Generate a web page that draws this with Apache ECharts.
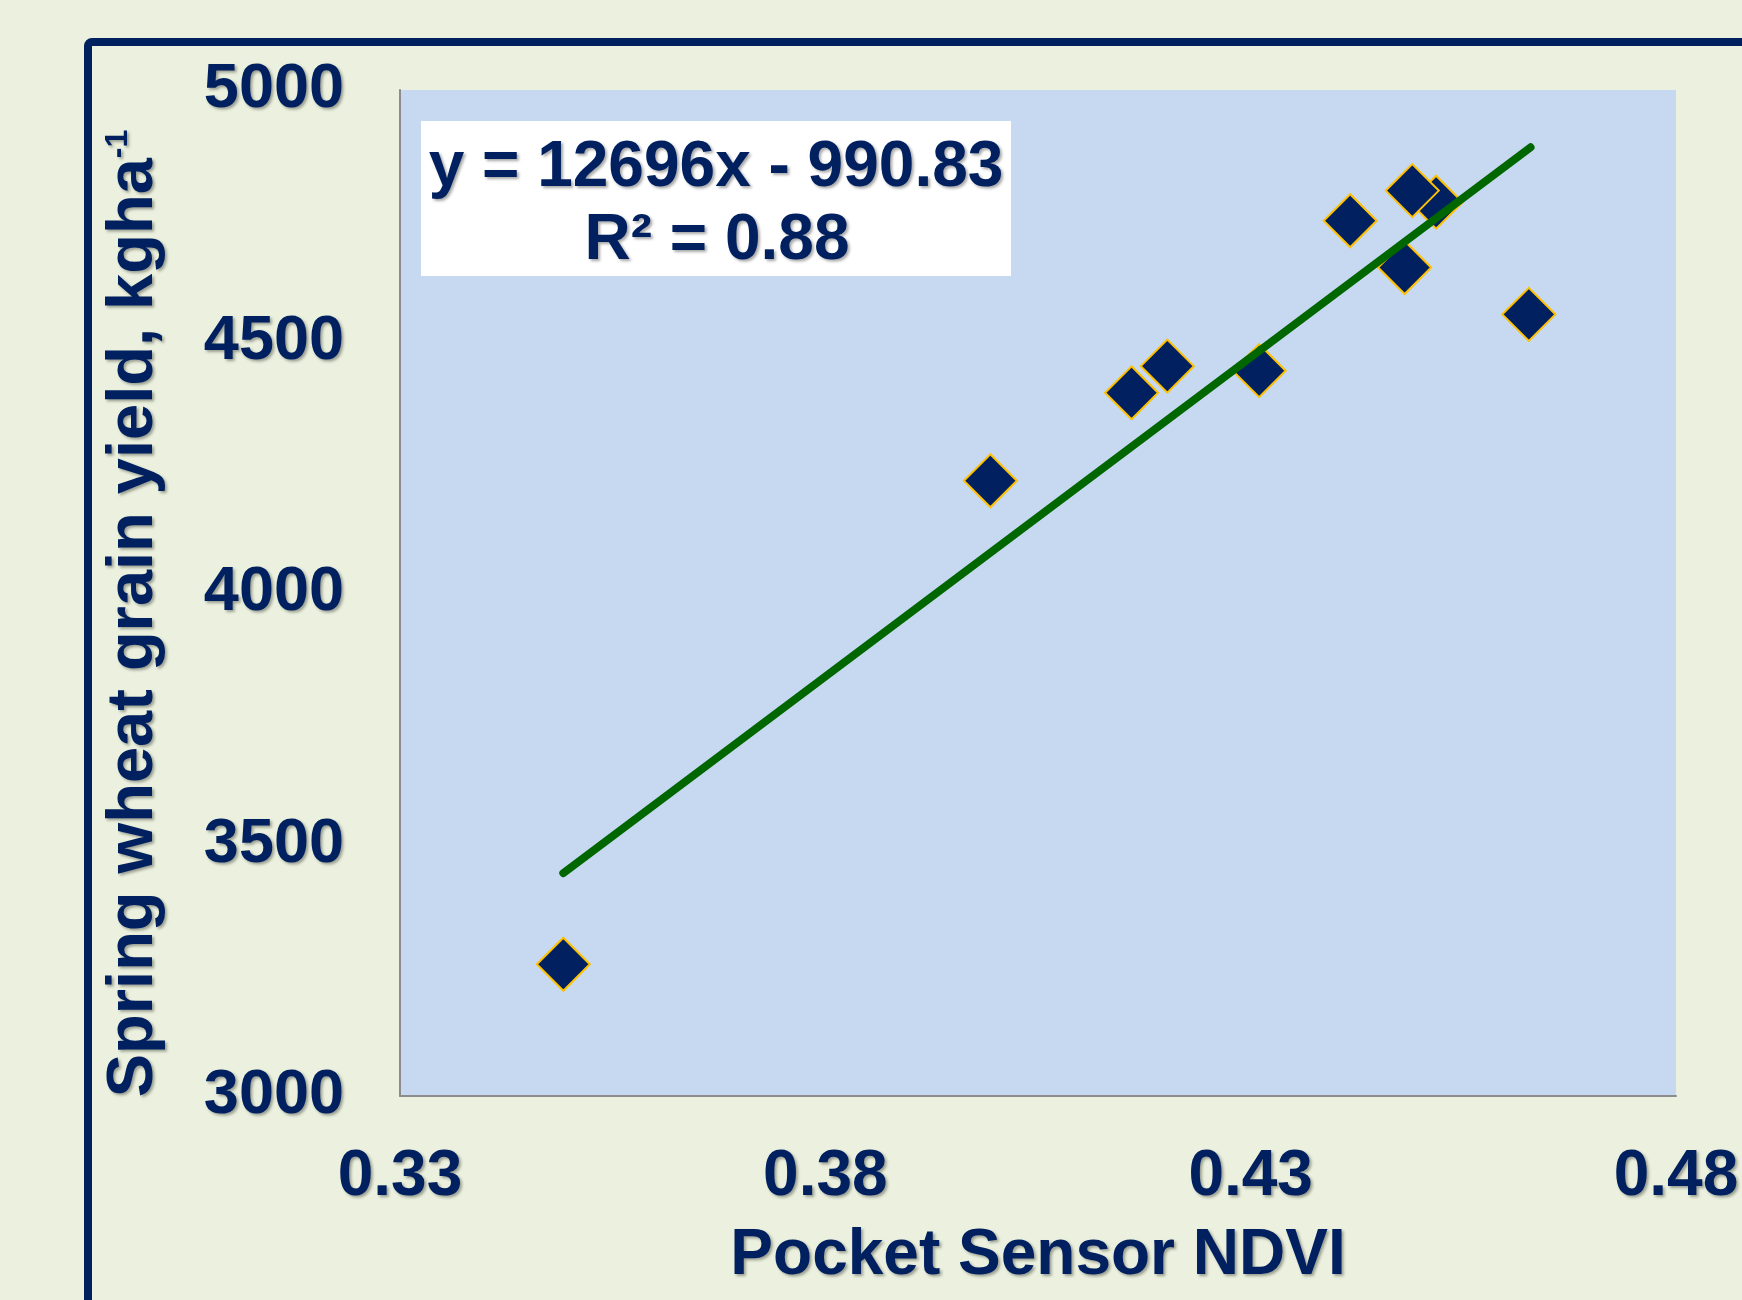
<!DOCTYPE html>
<html>
<head>
<meta charset="utf-8">
<script src="https://cdn.jsdelivr.net/npm/echarts@6/dist/echarts.min.js"></script>
<style>
html,body{margin:0;padding:0;background:#EBF1DE;}
#chart{width:1742px;height:1300px;}
</style>
</head>
<body>
<div id="chart"></div>
<script>
// ---- data ----
var ndvi  = [0.3492, 0.3994, 0.4160, 0.4202, 0.4310, 0.4417, 0.4518, 0.4490, 0.4481, 0.4627];
var yieldKg = [3262, 4223, 4398, 4451, 4442, 4740, 4777, 4800, 4647, 4554];
var trendX = [0.3492, 0.4629];
var trendY = [3443, 4886];
var xTicks = [0.33, 0.38, 0.43, 0.48];
var yTicks = [3000, 3500, 4000, 4500, 5000];
var equationText = 'y = 12696x - 990.83';
var r2Text = 'R² = 0.88';

var NAVY = '#002060';
var FONT = '"Liberation Sans", Arial, sans-serif';
var shadow = {textShadowColor: 'rgba(0,0,0,0.35)', textShadowBlur: 3, textShadowOffsetX: 2, textShadowOffsetY: 2};

var points = ndvi.map(function (x, i) { return [x, yieldKg[i]]; });
var trend = trendX.map(function (x, i) { return [x, trendY[i]]; });

var chart = echarts.init(document.getElementById('chart'), null, {renderer: 'canvas'});
chart.setOption({
  backgroundColor: '#EBF1DE',
  animation: false,
  grid: {left: 400, top: 90, right: 66, bottom: 204, show: true, backgroundColor: '#C6D9F1', borderWidth: 0},
  xAxis: {
    type: 'value', min: xTicks[0], max: xTicks[xTicks.length - 1],
    name: 'Pocket Sensor NDVI', nameLocation: 'middle', nameGap: 128,
    nameTextStyle: Object.assign({color: NAVY, fontSize: 64, fontWeight: 'bold', fontFamily: FONT}, shadow),
    axisLine: {show: true, lineStyle: {color: '#8c8c8c', width: 2}},
    axisTick: {show: false},
    splitLine: {show: false},
    axisLabel: Object.assign({customValues: xTicks, color: NAVY, fontSize: 64, fontWeight: 'bold', fontFamily: FONT, margin: 49,
      formatter: function (v) { return v.toFixed(2); }}, shadow)
  },
  yAxis: {
    type: 'value', min: yTicks[0], max: yTicks[yTicks.length - 1], interval: 500,
    name: '{a|Spring wheat grain yield, kgha}{b|-1}', nameLocation: 'middle', nameGap: 230,
    nameTextStyle: {
      padding: [0, 41, 0, 0],
      rich: {
        a: Object.assign({color: NAVY, fontSize: 65, fontWeight: 'bold', fontFamily: FONT, lineHeight: 72}, shadow),
        b: Object.assign({color: NAVY, fontSize: 32, fontWeight: 'bold', fontFamily: FONT, verticalAlign: 'top', lineHeight: 34, padding: [4, 0, 0, 0]}, shadow)
      }
    },
    axisLine: {show: true, lineStyle: {color: '#8c8c8c', width: 2}},
    axisTick: {show: false},
    splitLine: {show: false},
    axisLabel: Object.assign({customValues: yTicks, color: NAVY, fontSize: 63, fontWeight: 'bold', fontFamily: FONT, margin: 56,
      padding: [5, 0, 0, 0],
      formatter: function (v) { return String(v); }}, shadow)
  },
  series: [
    {
      type: 'scatter', data: points, symbol: 'diamond', symbolSize: 53,
      itemStyle: {color: NAVY, borderColor: '#FFC000', borderWidth: 2, opacity: 1}
    },
    {
      type: 'line', data: trend, showSymbol: false, symbol: 'none',
      lineStyle: {color: '#006600', width: 8, cap: 'round'}
    }
  ],
  graphic: [
    {type: 'rect', left: 84, top: 38, shape: {x: 0, y: 0, width: 2000, height: 2000, r: 4},
      style: {fill: null, stroke: NAVY, lineWidth: 8}, z: 100, silent: true},
    {type: 'rect', left: 421, top: 121, shape: {x: 0, y: 0, width: 590, height: 155},
      style: {fill: '#ffffff'}, z: 50, silent: true},
    {type: 'text', x: 716, y: 168, z: 51,
      style: Object.assign({text: equationText, fill: NAVY, font: 'bold 64px ' + FONT, align: 'center', verticalAlign: 'middle'}, shadow)},
    {type: 'text', x: 717, y: 241, z: 51,
      style: Object.assign({text: r2Text, fill: NAVY, font: 'bold 64px ' + FONT, align: 'center', verticalAlign: 'middle'}, shadow)}
  ]
});
</script>
</body>
</html>
